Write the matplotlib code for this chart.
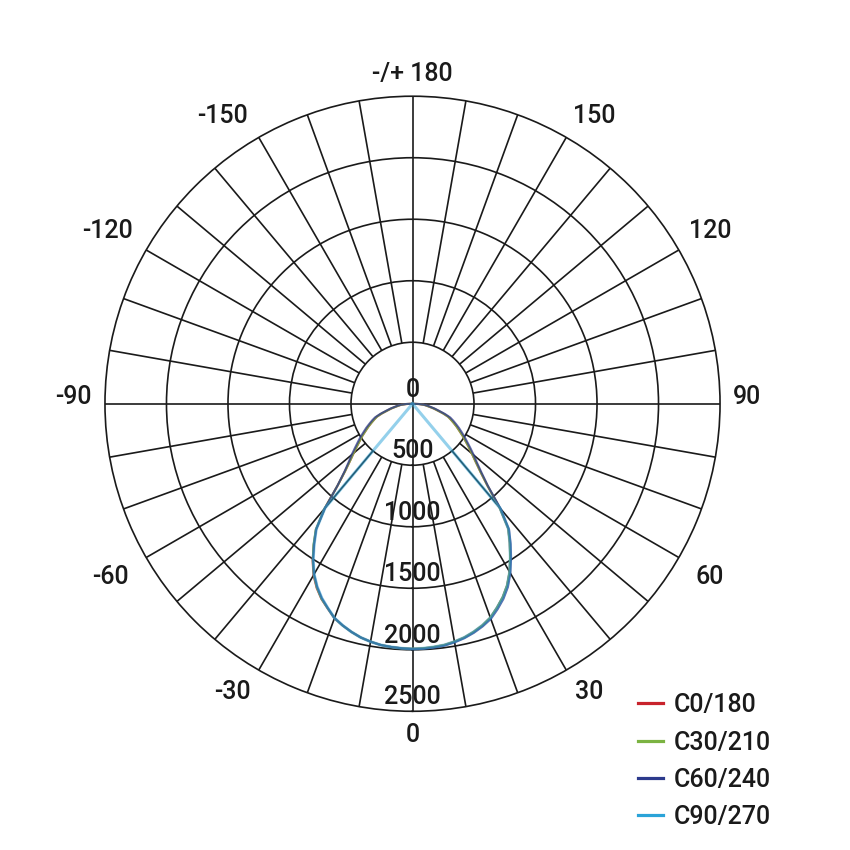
import numpy as np
import matplotlib
matplotlib.use("Agg")
import matplotlib.pyplot as plt
from matplotlib.lines import Line2D

plt.rcParams['font.family'] = ['Roboto', 'DejaVu Sans']

# ---- data (angles in degrees, intensity in cd) ----
angles = [-90 + 2.5 * i for i in range(73)]  # -90 ... 90 every 2.5 degrees

c0_180 = [0, 50, 90, 112, 138, 175, 210, 260, 308, 338, 370, 405, 440, 482, 522, 570, 625, 690,
          775, 900, 1110, 1290, 1400, 1512, 1610, 1688, 1752, 1802, 1856, 1890, 1920, 1946, 1964, 1978, 1985, 1990,
          1992,
          1990, 1985, 1978, 1964, 1946, 1920, 1889, 1850, 1794, 1735, 1665, 1578, 1478, 1378, 1278, 1100, 900,
          780, 695, 630, 575, 525, 482, 440, 405, 370, 338, 308, 260, 210, 175, 138, 112, 90, 50, 0]
c30_210 = [0, 50, 90, 112, 138, 175, 210, 260, 308, 338, 370, 405, 440, 482, 522, 570, 625, 690,
           775, 900, 1112, 1292, 1404, 1508, 1605, 1684, 1750, 1800, 1855, 1890, 1920, 1946, 1964, 1978, 1985, 1990,
           1992,
           1990, 1985, 1978, 1964, 1946, 1920, 1889, 1850, 1794, 1735, 1665, 1578, 1478, 1378, 1278, 1100, 900,
           780, 695, 630, 575, 525, 482, 440, 405, 370, 338, 308, 260, 210, 175, 138, 112, 90, 50, 0]
c60_240 = [0, 55, 98, 122, 148, 186, 223, 275, 324, 356, 388, 424, 459, 501, 542, 590, 645, 705,
           784, 902, 1107, 1285, 1394, 1503, 1600, 1678, 1744, 1798, 1854, 1889, 1920, 1946, 1964, 1978, 1985, 1990,
           1995,
           1994, 1990, 1984, 1970, 1952, 1928, 1898, 1862, 1808, 1750, 1680, 1592, 1492, 1392, 1290, 1115, 910,
           795, 712, 650, 594, 544, 502, 461, 426, 390, 358, 326, 277, 225, 188, 150, 124, 100, 56, 0]
c90_270 = [0, 0, 0, 0, 0, 0, 0, 0, 0, 0, 0, 0, 0, 0, 0, 0, 0, 0,
           0, 0, 1107, 1285, 1394, 1503, 1600, 1678, 1744, 1798, 1854, 1889, 1920, 1946, 1964, 1978, 1985, 1990,
           1992,
           1990, 1985, 1978, 1964, 1946, 1920, 1889, 1852, 1796, 1738, 1668, 1580, 1480, 1380, 1280, 1107, 0,
           0, 0, 0, 0, 0, 0, 0, 0, 0, 0, 0, 0, 0, 0, 0, 0, 0, 0, 0]

series_names = ['C0/180', 'C30/210', 'C60/240', 'C90/270']
series_vals = [c0_180, c30_210, c60_240, c90_270]
series_colors = ['#c8232c', '#7bb342', '#2c3a8c', '#2aa3d8']
series_alpha = [0.85, 0.85, 0.75, 0.5]
series_lw = [1.5, 1.5, 1.5, 2.2]

ring_values = [500, 1000, 1500, 2000]
ring_labels = ['0', '500', '1000', '1500', '2000', '2500']
ring_label_pos = [0, 500, 1000, 1500, 2000, 2500]
theta_label_texts = ['0', '30', '60', '90', '120', '150', '-/+ 180', '-150', '-120', '-90', '-60', '-30']
# label centres in pixels relative to the pole (x right, y down)
theta_label_dx = [0, 176.5, 297.5, 334.5, 297.5, 181.5, 0, -190.5, -304.5, -339, -302.5, -180.5]
theta_label_dy = [329, 286.3, 171.3, -8.7, -174.7, -289.7, -331.7, -289.7, -174.7, -8.7, 171.3, 286.3]
rmax = 2500

# ---- figure ----
W = H = 850
cx, cy = 412.5, 403.7
fig = plt.figure(figsize=(8.5, 8.5), dpi=100)
ax = fig.add_axes([0.1235, 0.1632, 0.7236, 0.7236], projection='polar')
ax.set_theta_zero_location('S')
ax.set_theta_direction(1)
ax.set_ylim(0, rmax)
ax.set_xticks([])
ax.set_yticks(ring_values)
ax.set_yticklabels([])
gridcol = '#1a1a1a'
ax.yaxis.grid(True, color=gridcol, lw=1.2)
ax.spines['polar'].set_color(gridcol)
ax.spines['polar'].set_linewidth(1.2)

for a in range(0, 360, 10):
    t = np.deg2rad(a)
    r0 = 0 if a % 90 == 0 else 500
    ax.plot([t, t], [r0, rmax], color=gridcol, lw=1.2, zorder=1, solid_capstyle='butt')

th = np.deg2rad(angles)
for vals, col, al, lw in zip(series_vals, series_colors, series_alpha, series_lw):
    ax.plot(th, vals, color=col, lw=lw, alpha=al, zorder=3)

FS = 18
# radial labels
for rv, lab in zip(ring_label_pos, ring_labels):
    ax.annotate(lab, xy=(0, rv), xytext=(0, 10), textcoords='offset points',
                ha='center', va='center', fontsize=FS, fontweight='medium',
                color='#1a1a1a', zorder=5)

# angle labels
for lab, dx, dy in zip(theta_label_texts, theta_label_dx, theta_label_dy):
    fig.text((cx + dx) / W, 1 - (cy + dy + 2) / H, lab, ha='center', va='center',
             fontsize=FS, fontweight='medium', color='#1a1a1a')

# legend
ys = [703, 741, 778, 815]
for y, name, col in zip(ys, series_names, series_colors):
    yf = 1 - y / H
    fig.add_artist(Line2D([638 / W, 663 / W], [yf, yf], color=col, lw=2.3,
                          transform=fig.transFigure))
    fig.text(674 / W, 1 - (y + 2) / H, name, ha='left', va='center', fontsize=FS,
             fontweight='medium', color='#1a1a1a')

fig.savefig('out.png', dpi=100, facecolor='white')
